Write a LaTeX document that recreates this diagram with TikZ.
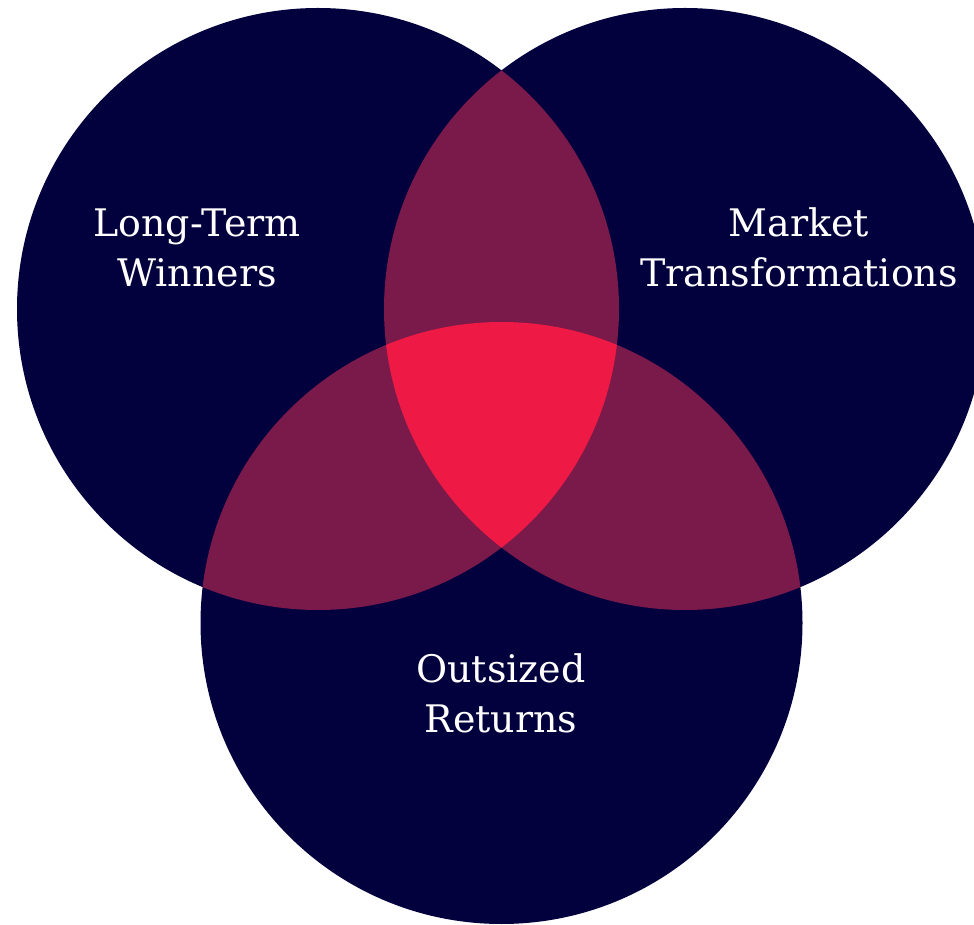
\documentclass[tikz,border=0pt]{standalone}
\usepackage{fontspec}
\setmainfont{DejaVu Serif}
\definecolor{vennnavy}{HTML}{03003E}
\definecolor{vennplum}{HTML}{7A1A4A}
\definecolor{vennred}{HTML}{EE1944}
\tikzset{
	venntext/.style={text=white, align=center, inner sep=0pt}
}
\begin{document}
\begin{tikzpicture}[x=0.02cm, y=-0.02cm, line cap=round, line join=round, font=\fontsize{21.6}{28.5}\selectfont]
\useasboundingbox (0,0) rectangle (974,925);
%========================
% circle centres
%========================
\coordinate (winners) at (318,309);
\coordinate (markets) at (685,309);
\coordinate (returns) at (501.5,623);
\def\vennr{301}

% base discs
\fill[vennnavy] (winners) circle (\vennr);
\fill[vennnavy] (markets) circle (\vennr);
\fill[vennnavy] (returns) circle (\vennr);

% pairwise overlaps
\begin{scope}
	\clip (winners) circle (\vennr);
	\fill[vennplum] (markets) circle (\vennr);
	\fill[vennplum] (returns) circle (\vennr);
\end{scope}
\begin{scope}
	\clip (markets) circle (\vennr);
	\fill[vennplum] (returns) circle (\vennr);
\end{scope}

% centre: all three
\begin{scope}
	\clip (winners) circle (\vennr);
	\clip (markets) circle (\vennr);
	\fill[vennred] (returns) circle (\vennr);
\end{scope}

%========================
% labels
%========================
\node[venntext] (winnerslabel) at (197,248) {Long-Term\\Winners};
\node[venntext] (marketslabel) at (799,247.5) {Market\\Transformations};
\node[venntext] (returnslabel) at (501,693.5) {Outsized\\Returns};
\end{tikzpicture}
\end{document}
